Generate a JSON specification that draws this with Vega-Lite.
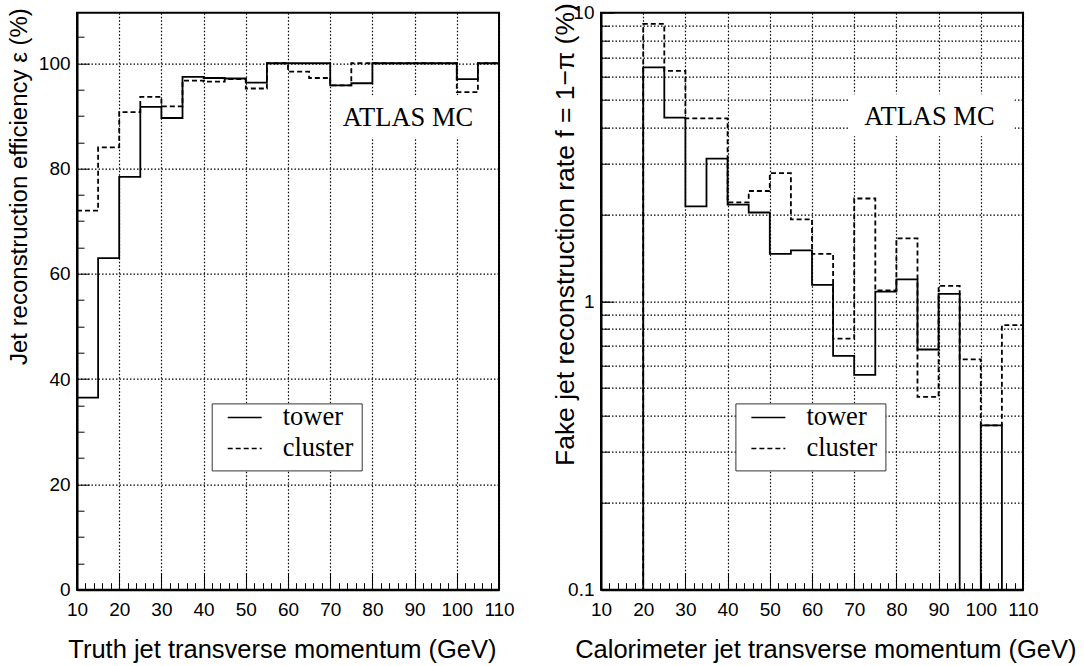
{
  "$schema": "https://vega.github.io/schema/vega-lite/v6.json",
  "background": "white",
  "padding": {"left": 6, "top": 1.7, "right": 5, "bottom": 5},
  "spacing": 102,
  "bounds": "flush",
  "config": {
    "view": {"stroke": "black", "strokeWidth": 2},
    "axis": {
      "labelFont": "Liberation Sans", "labelFontSize": 19, "labelColor": "black",
      "titleFont": "Liberation Sans", "titleFontSize": 25.5, "titleFontWeight": "normal", "titleColor": "black",
      "domainColor": "black", "domainWidth": 2, "tickColor": "black", "tickWidth": 1,
      "gridColor": "black", "gridDash": [1.5, 2], "gridWidth": 1.2, "gridOpacity": 1,
      "labelOverlap": false, "labelFlush": false, "labelBound": false, "tickCount": 200
    }
  },
  "resolve": {"legend": {"strokeDash": "independent"}, "scale": {"strokeDash": "independent"}},
  "hconcat": [
    {
      "width": 422,
      "height": 577,
      "resolve": {"axis": {"x": "independent", "y": "independent"}},
      "data": {"values": [
        {"pt": 10, "eff": 36.5, "s": "tower"}, {"pt": 15, "eff": 63.0, "s": "tower"}, {"pt": 20, "eff": 78.4, "s": "tower"},
        {"pt": 25, "eff": 91.7, "s": "tower"}, {"pt": 30, "eff": 89.6, "s": "tower"}, {"pt": 35, "eff": 97.4, "s": "tower"},
        {"pt": 40, "eff": 97.2, "s": "tower"}, {"pt": 45, "eff": 97.1, "s": "tower"}, {"pt": 50, "eff": 96.3, "s": "tower"},
        {"pt": 55, "eff": 100, "s": "tower"}, {"pt": 60, "eff": 100, "s": "tower"}, {"pt": 65, "eff": 100, "s": "tower"},
        {"pt": 70, "eff": 95.8, "s": "tower"}, {"pt": 75, "eff": 96.2, "s": "tower"}, {"pt": 80, "eff": 100, "s": "tower"},
        {"pt": 85, "eff": 100, "s": "tower"}, {"pt": 90, "eff": 100, "s": "tower"}, {"pt": 95, "eff": 100, "s": "tower"},
        {"pt": 100, "eff": 97.0, "s": "tower"}, {"pt": 105, "eff": 100, "s": "tower"}, {"pt": 110, "eff": 100, "s": "tower"},
        {"pt": 10, "eff": 72.0, "s": "cluster"}, {"pt": 15, "eff": 84.0, "s": "cluster"}, {"pt": 20, "eff": 90.7, "s": "cluster"},
        {"pt": 25, "eff": 93.6, "s": "cluster"}, {"pt": 30, "eff": 91.8, "s": "cluster"}, {"pt": 35, "eff": 96.7, "s": "cluster"},
        {"pt": 40, "eff": 96.5, "s": "cluster"}, {"pt": 45, "eff": 97.0, "s": "cluster"}, {"pt": 50, "eff": 95.2, "s": "cluster"},
        {"pt": 55, "eff": 100, "s": "cluster"}, {"pt": 60, "eff": 98.4, "s": "cluster"}, {"pt": 65, "eff": 97.2, "s": "cluster"},
        {"pt": 70, "eff": 95.8, "s": "cluster"}, {"pt": 75, "eff": 100, "s": "cluster"}, {"pt": 80, "eff": 100, "s": "cluster"},
        {"pt": 85, "eff": 100, "s": "cluster"}, {"pt": 90, "eff": 100, "s": "cluster"}, {"pt": 95, "eff": 100, "s": "cluster"},
        {"pt": 100, "eff": 94.5, "s": "cluster"}, {"pt": 105, "eff": 100, "s": "cluster"}, {"pt": 110, "eff": 100, "s": "cluster"}
      ]},
      "layer": [
        {
          "mark": {"type": "line", "interpolate": "step-after", "color": "black", "strokeWidth": 1.8, "clip": true},
          "encoding": {
            "x": {
              "field": "pt", "type": "quantitative",
              "scale": {"domain": [10, 110], "nice": false, "zero": false},
              "axis": {
                "orient": "bottom",
                "title": "Truth jet transverse momentum (GeV)",
                "values": [10,20,30,40,50,60,70,80,90,100,110], "format": "d",
                "tickSize": -17, "labelPadding": 28, "grid": true,
                "titleAnchor": "end", "titleAlign": "right", "titleBaseline": "alphabetic",
                "titleX": 419, "titleY": 67.7
              }
            },
            "y": {
              "field": "eff", "type": "quantitative",
              "scale": {"domain": [0, 109.6], "nice": false},
              "axis": {
                "orient": "left",
                "title": "Jet reconstruction efficiency ε (%)",
                "titleFontSize": 24,
                "values": [0,20,40,60,80,100], "format": "d",
                "tickSize": -12, "labelPadding": 19, "grid": true,
                "titleAnchor": "end", "titleAlign": "right", "titleBaseline": "alphabetic", "titleAngle": 270,
                "titleX": -51, "titleY": -5
              }
            },
            "strokeDash": {
              "field": "s", "type": "nominal",
              "scale": {"domain": ["tower", "cluster"], "range": [[1, 0], [5, 3]]},
              "legend": {
                "orient": "none", "legendX": 134.7, "legendY": 390.7, "title": null,
                "strokeColor": "#333", "fillColor": "white", "padding": 8,
                "labelFont": "Liberation Serif", "labelFontSize": 26.5, "labelColor": "black",
                "labelExpr": "datum.label + '  '",
                "symbolType": "stroke", "symbolSize": 1156, "symbolStrokeColor": "black", "symbolStrokeWidth": 1.5,
                "symbolOffset": 7, "labelOffset": 20, "clipHeight": 12, "rowPadding": 4
              }
            }
          }
        },
        {
          "data": {"values": [{}]},
          "mark": {"type": "rect", "color": "white"},
          "encoding": {
            "x": {
              "datum": 70.2, "type": "quantitative",
              "scale": {"domain": [10, 110], "nice": false, "zero": false},
              "axis": {
                "orient": "bottom", "title": null, "labels": false, "domain": false, "grid": false,
                "values": [12,14,16,18,22,24,26,28,32,34,36,38,42,44,46,48,52,54,56,58,62,64,66,68,72,74,76,78,82,84,86,88,92,94,96,98,102,104,106,108],
                "tickSize": -7
              }
            },
            "x2": {"datum": 105.3},
            "y": {
              "datum": 93.9, "type": "quantitative",
              "scale": {"domain": [0, 109.6], "nice": false},
              "axis": {
                "orient": "left", "title": null, "labels": false, "domain": false, "grid": false,
                "values": [5,10,15,25,30,35,45,50,55,65,70,75,85,90,95,105],
                "tickSize": -7
              }
            },
            "y2": {"datum": 85.9}
          }
        },
        {
          "data": {"values": [{}]},
          "mark": {"type": "text", "font": "Liberation Serif", "fontSize": 26.5, "align": "left", "baseline": "alphabetic", "color": "black"},
          "encoding": {
            "x": {"datum": 73.0, "type": "quantitative", "axis": null},
            "y": {"datum": 88.0, "type": "quantitative", "axis": null},
            "text": {"value": "ATLAS MC"}
          }
        }
      ]
    },
    {
      "width": 422,
      "height": 577,
      "resolve": {"axis": {"x": "independent", "y": "independent"}},
      "data": {"values": [
        {"pt": 10, "rate": 0.01, "s": "tower"}, {"pt": 15, "rate": 0.01, "s": "tower"}, {"pt": 20, "rate": 6.46, "s": "tower"},
        {"pt": 25, "rate": 4.33, "s": "tower"}, {"pt": 30, "rate": 2.13, "s": "tower"}, {"pt": 35, "rate": 3.12, "s": "tower"},
        {"pt": 40, "rate": 2.16, "s": "tower"}, {"pt": 45, "rate": 2.03, "s": "tower"}, {"pt": 50, "rate": 1.46, "s": "tower"},
        {"pt": 55, "rate": 1.50, "s": "tower"}, {"pt": 60, "rate": 1.14, "s": "tower"}, {"pt": 65, "rate": 0.646, "s": "tower"},
        {"pt": 70, "rate": 0.555, "s": "tower"}, {"pt": 75, "rate": 1.08, "s": "tower"}, {"pt": 80, "rate": 1.19, "s": "tower"},
        {"pt": 85, "rate": 0.68, "s": "tower"}, {"pt": 90, "rate": 1.06, "s": "tower"}, {"pt": 95, "rate": 0.01, "s": "tower"},
        {"pt": 100, "rate": 0.371, "s": "tower"}, {"pt": 105, "rate": 0.01, "s": "tower"}, {"pt": 110, "rate": 0.01, "s": "tower"},
        {"pt": 10, "rate": 0.01, "s": "cluster"}, {"pt": 15, "rate": 0.01, "s": "cluster"}, {"pt": 20, "rate": 9.14, "s": "cluster"},
        {"pt": 25, "rate": 6.29, "s": "cluster"}, {"pt": 30, "rate": 4.30, "s": "cluster"}, {"pt": 35, "rate": 4.30, "s": "cluster"},
        {"pt": 40, "rate": 2.20, "s": "cluster"}, {"pt": 45, "rate": 2.41, "s": "cluster"}, {"pt": 50, "rate": 2.78, "s": "cluster"},
        {"pt": 55, "rate": 1.92, "s": "cluster"}, {"pt": 60, "rate": 1.46, "s": "cluster"}, {"pt": 65, "rate": 0.742, "s": "cluster"},
        {"pt": 70, "rate": 2.27, "s": "cluster"}, {"pt": 75, "rate": 1.09, "s": "cluster"}, {"pt": 80, "rate": 1.65, "s": "cluster"},
        {"pt": 85, "rate": 0.466, "s": "cluster"}, {"pt": 90, "rate": 1.13, "s": "cluster"}, {"pt": 95, "rate": 0.629, "s": "cluster"},
        {"pt": 100, "rate": 0.371, "s": "cluster"}, {"pt": 105, "rate": 0.826, "s": "cluster"}, {"pt": 110, "rate": 0.826, "s": "cluster"}
      ]},
      "layer": [
        {
          "mark": {"type": "line", "interpolate": "step-after", "color": "black", "strokeWidth": 1.8, "clip": true},
          "encoding": {
            "x": {
              "field": "pt", "type": "quantitative",
              "scale": {"domain": [10, 110], "nice": false, "zero": false},
              "axis": {
                "orient": "bottom",
                "title": "Calorimeter jet transverse momentum (GeV)",
                "values": [10,20,30,40,50,60,70,80,90,100,110], "format": "d",
                "tickSize": -17, "labelPadding": 28, "grid": true,
                "titleAnchor": "end", "titleAlign": "right", "titleBaseline": "alphabetic",
                "titleX": 475, "titleY": 67.7
              }
            },
            "y": {
              "field": "rate", "type": "quantitative",
              "scale": {"type": "log", "domain": [0.1, 10], "nice": false},
              "axis": {
                "orient": "left",
                "title": "Fake jet reconstruction rate f = 1−π (%)",
                "titleFontSize": 26.5,
                "values": [0.1, 1, 10],
                "labelExpr": "datum.value === 0.1 ? '0.1' : datum.value === 1 ? '1' : '10'",
                "tickSize": -13, "labelPadding": 20, "grid": false,
                "titleAnchor": "end", "titleAlign": "right", "titleBaseline": "alphabetic", "titleAngle": 270,
                "titleX": -27, "titleY": -10
              }
            },
            "strokeDash": {
              "field": "s", "type": "nominal",
              "scale": {"domain": ["tower", "cluster"], "range": [[1, 0], [5, 3]]},
              "legend": {
                "orient": "none", "legendX": 134.4, "legendY": 390.7, "title": null,
                "strokeColor": "#333", "fillColor": "white", "padding": 8,
                "labelFont": "Liberation Serif", "labelFontSize": 26.5, "labelColor": "black",
                "labelExpr": "datum.label + '  '",
                "symbolType": "stroke", "symbolSize": 1156, "symbolStrokeColor": "black", "symbolStrokeWidth": 1.5,
                "symbolOffset": 7, "labelOffset": 20, "clipHeight": 12, "rowPadding": 4
              }
            }
          }
        },
        {
          "data": {"values": [{}]},
          "mark": {"type": "rect", "color": "white"},
          "encoding": {
            "x": {
              "datum": 68.8, "type": "quantitative",
              "scale": {"domain": [10, 110], "nice": false, "zero": false},
              "axis": {
                "orient": "bottom", "title": null, "labels": false, "domain": false, "grid": false,
                "values": [12,14,16,18,22,24,26,28,32,34,36,38,42,44,46,48,52,54,56,58,62,64,66,68,72,74,76,78,82,84,86,88,92,94,96,98,102,104,106,108],
                "tickSize": -7
              }
            },
            "x2": {"datum": 108},
            "y": {
              "datum": 5.22, "type": "quantitative",
              "scale": {"type": "log", "domain": [0.1, 10], "nice": false},
              "axis": {
                "orient": "left", "title": null, "labels": false, "domain": false, "grid": true,
                "values": [0.2,0.3,0.4,0.5,0.6,0.7,0.8,0.9,1,2,3,4,5,6,7,8,9],
                "tickSize": -8
              }
            },
            "y2": {"datum": 3.73}
          }
        },
        {
          "data": {"values": [{}]},
          "mark": {"type": "text", "font": "Liberation Serif", "fontSize": 26.5, "align": "left", "baseline": "alphabetic", "color": "black"},
          "encoding": {
            "x": {"datum": 72.4, "type": "quantitative", "axis": null},
            "y": {"datum": 4.07, "type": "quantitative", "axis": null},
            "text": {"value": "ATLAS MC"}
          }
        }
      ]
    }
  ]
}
